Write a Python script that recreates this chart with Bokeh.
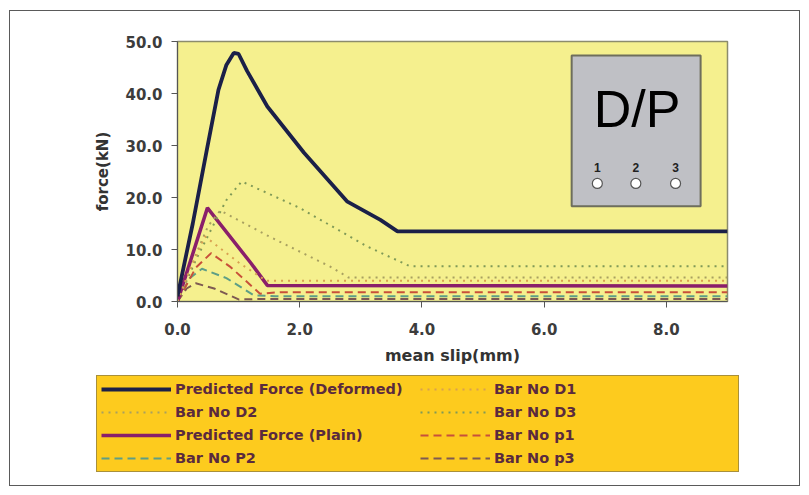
from bokeh.plotting import figure
from bokeh.layouts import column
from bokeh.models import Range1d, Legend, LegendItem, FixedTicker, NumeralTickFormatter, Label
from bokeh.embed import file_html
from bokeh.resources import INLINE

# ---------------- data ----------------
slip_def = [0.0, 0.25, 0.49, 0.67, 0.8, 0.92, 1.0, 1.14, 1.47, 2.07, 2.78, 3.32, 3.6, 9.0]
force_def = [1.0, 15.0, 29.8, 40.7, 45.5, 47.8, 47.6, 44.3, 37.5, 28.6, 19.2, 15.7, 13.5, 13.5]

slip_plain = [0.0, 0.49, 1.2, 1.47, 9.0]
force_plain = [0.0, 18.0, 7.4, 3.1, 3.0]

slip_d1 = [0.0, 0.2, 0.45, 1.0, 1.45, 9.0]
force_d1 = [0.0, 6.0, 12.5, 7.5, 4.0, 4.0]
slip_d2 = [0.0, 0.3, 0.5, 0.7, 1.5, 2.5, 2.8, 9.0]
force_d2 = [0.0, 9.0, 14.5, 17.5, 12.5, 6.7, 4.6, 4.6]
slip_d3 = [0.0, 0.3, 0.6, 0.8, 1.05, 2.0, 3.1, 3.8, 9.0]
force_d3 = [0.0, 8.0, 15.0, 19.5, 23.1, 18.0, 10.6, 6.8, 6.8]

slip_p1 = [0.0, 0.3, 0.55, 0.87, 1.35, 1.7, 9.0]
force_p1 = [0.0, 6.5, 9.3, 6.6, 1.5, 1.8, 1.8]
slip_p2 = [0.0, 0.2, 0.4, 0.8, 1.25, 1.6, 9.0]
force_p2 = [0.0, 4.5, 6.3, 4.5, 1.2, 1.0, 1.0]
slip_p3 = [0.0, 0.15, 0.3, 0.6, 1.0, 1.4, 9.0]
force_p3 = [0.0, 2.5, 3.5, 2.5, 0.4, 0.5, 0.5]

x_ticks = [0, 2, 4, 6, 8]
y_ticks = [0, 10, 20, 30, 40, 50]

names = ["Predicted Force (Deformed)", "Bar No D1", "Bar No D2", "Bar No D3",
         "Predicted Force (Plain)", "Bar No p1", "Bar No P2", "Bar No p3"]

# inset (D/P bar layout sketch)
inset_title = "D/P"
inset_nums = ["1", "2", "3"]

FONT = "DejaVu Sans"

series = [
    (slip_def, force_def, dict(line_color="#1B2048", line_width=3.8)),
    (slip_d1, force_d1, dict(line_color="#D8A050", line_width=2, line_dash="2 5")),
    (slip_d2, force_d2, dict(line_color="#A8A060", line_width=2, line_dash="2 5")),
    (slip_d3, force_d3, dict(line_color="#7F9957", line_width=2, line_dash="2 5")),
    (slip_plain, force_plain, dict(line_color="#8A1F6A", line_width=3.5)),
    (slip_p1, force_p1, dict(line_color="#C8503A", line_width=2, line_dash="8 5")),
    (slip_p2, force_p2, dict(line_color="#5E9E86", line_width=2, line_dash="8 5")),
    (slip_p3, force_p3, dict(line_color="#7E5A52", line_width=2, line_dash="8 5")),
]

# ---------------- main chart ----------------
p = figure(frame_width=550, frame_height=260,
           x_range=Range1d(0, 9), y_range=Range1d(0, 50),
           output_backend="svg", toolbar_location=None,
           min_border_left=167, min_border_right=72,
           min_border_top=30, min_border_bottom=68)
p.background_fill_color = "#F5F08E"
p.border_fill_color = "white"
p.outline_line_color = "#8C8C6C"
p.outline_line_width = 1.5
p.xgrid.visible = False
p.ygrid.visible = False

for ax in (p.xaxis[0], p.yaxis[0]):
    ax.major_label_text_font = FONT
    ax.major_label_text_font_style = "bold"
    ax.major_label_text_font_size = "15px"
    ax.major_label_text_color = "#3C3C3C"
    ax.axis_label_text_font = FONT
    ax.axis_label_text_font_style = "bold"
    ax.axis_label_text_color = "#333333"
    ax.axis_line_color = "#555555"
    ax.major_tick_line_color = "#555555"
    ax.minor_tick_line_color = None
    ax.major_tick_in = 0
    ax.major_tick_out = 6

p.xaxis.ticker = FixedTicker(ticks=x_ticks)
p.yaxis.ticker = FixedTicker(ticks=y_ticks)
p.xaxis.formatter = NumeralTickFormatter(format="0.0")
p.yaxis.formatter = NumeralTickFormatter(format="0.0")
p.xaxis.axis_label = "mean slip(mm)"
p.yaxis.axis_label = "force(kN)"
p.xaxis.axis_label_text_font_size = "16px"
p.yaxis.axis_label_text_font_size = "15px"
p.xaxis.major_label_standoff = 15
p.xaxis.axis_label_standoff = 8
p.yaxis.major_label_standoff = 9
p.yaxis.axis_label_standoff = 10

# inset box
p.quad(left=[6.45], right=[8.56], bottom=[18.3], top=[47.3],
       fill_color="#BFC0C5", line_color="#6E6E5C", line_width=2)
p.add_layout(Label(x=7.52, y=37.1, text=inset_title, text_font="Liberation Sans",
                   text_font_size="52px", text_color="black",
                   text_align="center", text_baseline="middle"))
for xx, t in zip([6.87, 7.50, 8.15], inset_nums):
    p.add_layout(Label(x=xx, y=25.8, text=t, text_font="Liberation Sans",
                       text_font_style="bold", text_font_size="12px", text_color="#222",
                       text_align="center", text_baseline="middle"))
p.scatter([6.87, 7.50, 8.15], [22.7, 22.7, 22.7], size=10, fill_color="white",
          line_color="#555555", line_width=1.2)

for xs, ys, st in reversed(series):
    p.line(xs, ys, **st)

# ---------------- legend strip ----------------
lp = figure(frame_width=789, frame_height=116,
            x_range=Range1d(0, 9), y_range=Range1d(0, 50),
            output_backend="svg", toolbar_location=None,
            x_axis_type=None, y_axis_type=None,
            min_border_left=0, min_border_right=0, min_border_top=0, min_border_bottom=0)
lp.outline_line_color = None
lp.background_fill_color = "white"
lp.border_fill_color = "white"
lp.xgrid.visible = False
lp.ygrid.visible = False

items = []
for (xs, ys, st), n in zip(series, names):
    r = lp.line(xs, ys, **st)
    r.visible = False
    items.append(LegendItem(label=n, renderers=[r]))

legend = Legend(items=items, orientation="horizontal", ncols=2, location=(86, 13))
legend.background_fill_color = "#FDCB1E"
legend.background_fill_alpha = 1.0
legend.border_line_color = "#555555"
legend.border_line_width = 1.5
legend.label_text_font = FONT
legend.label_text_font_style = "bold"
legend.label_text_font_size = "14.5px"
legend.label_text_color = "#5A2A3E"
legend.glyph_width = 70
legend.label_width = 240
legend.label_height = 18
legend.glyph_height = 18
legend.label_standoff = 4
legend.spacing = 5
legend.padding = 4
legend.margin = 0
lp.add_layout(legend, "center")

page = column(p, lp, spacing=0,
              styles={"border": "1px solid #5a5a5a", "margin-left": "9px", "margin-top": "10px"})

open("out.html", "w").write(file_html(page, INLINE))
